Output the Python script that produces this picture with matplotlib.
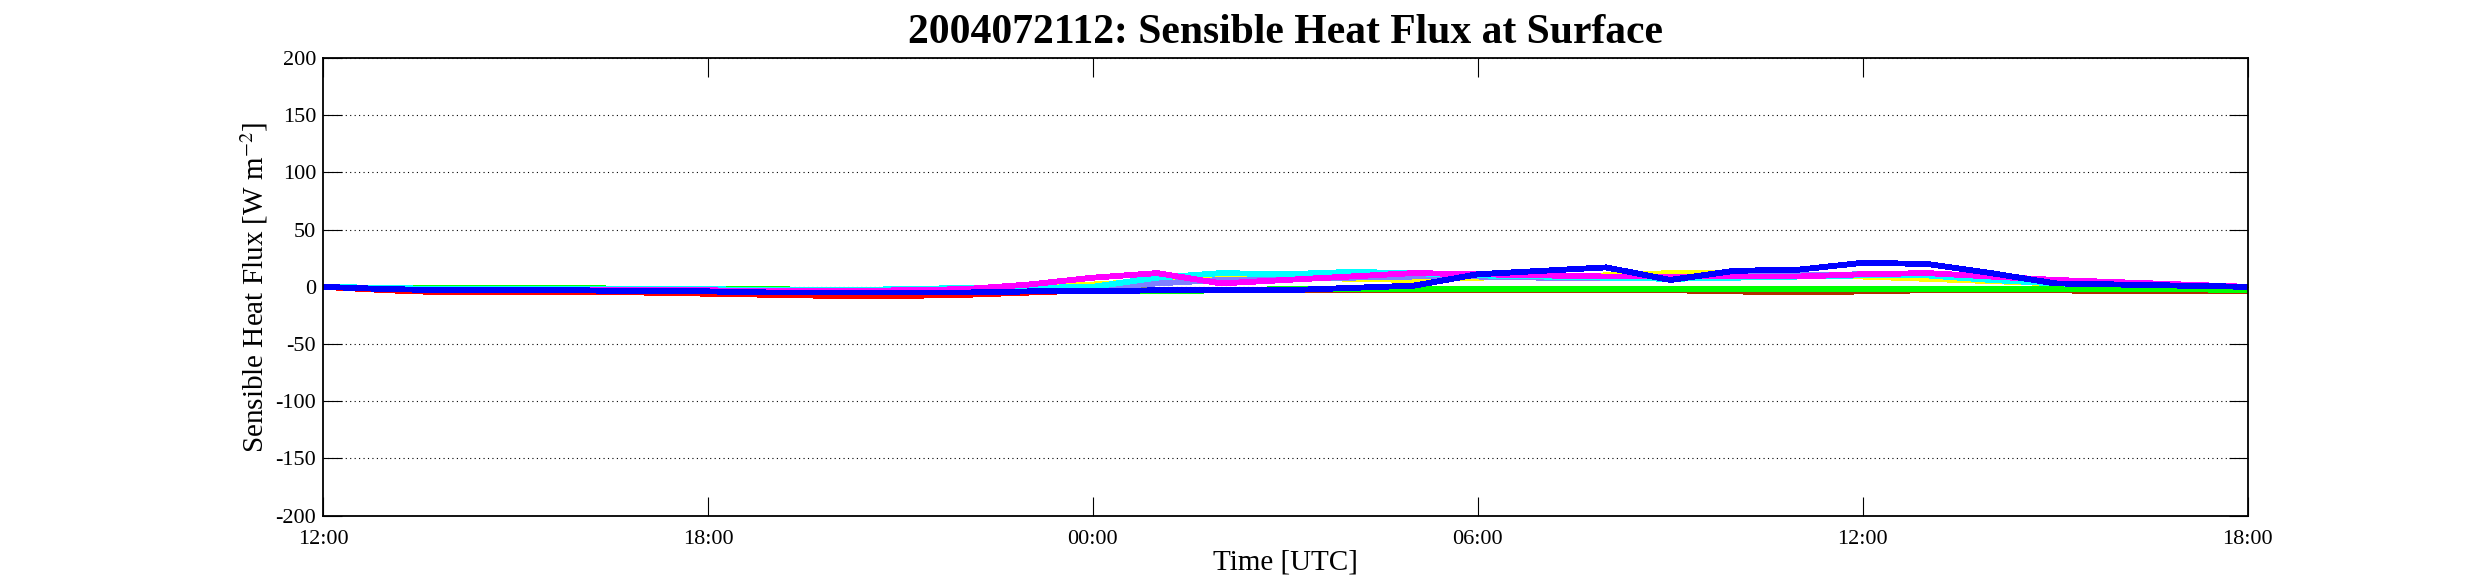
import matplotlib
matplotlib.use("Agg")
import matplotlib.pyplot as plt

plt.rcParams['font.family'] = ['Liberation Serif', 'DejaVu Serif']
plt.rcParams['mathtext.fontset'] = 'stix'
plt.rcParams['axes.unicode_minus'] = False

# hours after 2004-07-21 12 UTC
hours = list(range(31))
tick_hours = [0, 6, 12, 18, 24, 30]
tick_names = ["12:00", "18:00", "00:00", "06:00", "12:00", "18:00"]
y_ticks = [-200, -150, -100, -50, 0, 50, 100, 150, 200]

red = [0, -3, -5, -5, -5, -5, -6, -7, -8, -8, -7, -5, -3, -3, -3, -3, -3, -3, -3, -3, -3, -3, -3, -3, -3, -3, -3, -3, -3, -3, -3]
gray = [0, -1, -1, -1, -1, -2, -2, -3, -3, -3, -3, -3, -3, -3, -3, -3, -3, -3, -3, -3, -3, -3, -3, -3, -3, -3, -3, -3, -3, -3, -3]
darkred = [0, -2, -3, -3, -3, -3, -4, -4, -5, -5, -4, -4, -4, -3, -3, -3, -3, -3, -3, -3, -3, -3, -4, -5, -4, -3, -3, -3, -4, -4, -4]
green = [0, -1, -1, -1, -1, -2, -2, -2, -3, -3, -3, -3, -3, -4, -3, -2, -2, -2, -2, -2, -2, -2, -2, -2, -2, -2, -2, -2, -2, -2, -3]
yellow = [0, -1, -2, -2, -2, -3, -3, -3, -3, -2, -1, 0, 2, 5, 8, 9, 7, 6, 8, 9, 10, 12, 12, 10, 9, 7, 5, 3, 2, 1, 0]
lightblue = [0, -1, -2, -2, -2, -3, -3, -3, -3, -3, -2, -2, -1, 3, 6, 7, 8, 9, 9, 8, 8, 8, 9, 10, 11, 11, 7, 4, 2, 1, 0]
cyan = [0, -1, -2, -2, -2, -2, -2, -3, -3, -2, -1, -1, 0, 8, 12, 11, 13, 12, 10, 9, 8, 7, 8, 9, 10, 10, 6, 3, 2, 1, 0]
magenta = [0, -2, -3, -3, -3, -3, -3, -4, -4, -3, -2, 2, 8, 12, 3, 6, 9, 12, 11, 10, 9, 9, 9, 9, 11, 12, 9, 6, 4, 2, 0]
blue = [0, -2, -3, -3, -3, -4, -4, -5, -5, -5, -5, -4, -4, -3, -3, -3, -1, 1, 11, 14, 17, 6, 14, 15, 21, 20, 12, 3, 2, 1, 0]

fig = plt.figure(figsize=(24.85, 5.84), dpi=100)
ax = fig.add_axes([0.130, 0.117, 0.7745, 0.7837])

ax.plot(hours, red, color='#ff0000', lw=3.5, antialiased=False)
ax.plot(hours, gray, color='#808080', lw=3.5, antialiased=False)
ax.plot(hours, darkred, color='#b03000', lw=3.5, antialiased=False)
ax.plot(hours, green, color='#00ff00', lw=3.5, antialiased=False)
ax.plot(hours, yellow, color='#ffff00', lw=3.5, antialiased=False)
ax.plot(hours, lightblue, color='#8080ff', lw=3.5, antialiased=False)
ax.plot(hours, cyan, color='#00ffff', lw=3.5, antialiased=False)
ax.plot(hours, magenta, color='#ff00ff', lw=3.5, antialiased=False)
ax.plot(hours, blue, color='#0000ff', lw=3.5, antialiased=False)

ax.set_xlim(0, 30)
ax.set_ylim(-200, 200)
ax.set_xticks(tick_hours)
ax.set_xticklabels(tick_names)
ax.set_yticks(y_ticks)
ax.set_yticklabels([str(v) for v in y_ticks])
ax.tick_params(direction='in', length=14, width=0.8, labelsize=16,
               top=True, right=True)
ax.tick_params(axis='x', pad=10)
ax.tick_params(axis='y', pad=5)
ax.yaxis.grid(True, color='black', lw=0.8, linestyle=(0, (1, 3)))
for s in ax.spines.values():
    s.set_linewidth(1.3)

ax.set_title('2004072112: Sensible Heat Flux at Surface', fontsize=30,
             fontweight='bold', pad=11)
ax.set_xlabel('Time [UTC]', fontsize=21, labelpad=1)
ax.set_ylabel('Sensible Heat Flux [W m$^{-2}$]', fontsize=21, labelpad=4)

fig.savefig('out.png', dpi=100)
